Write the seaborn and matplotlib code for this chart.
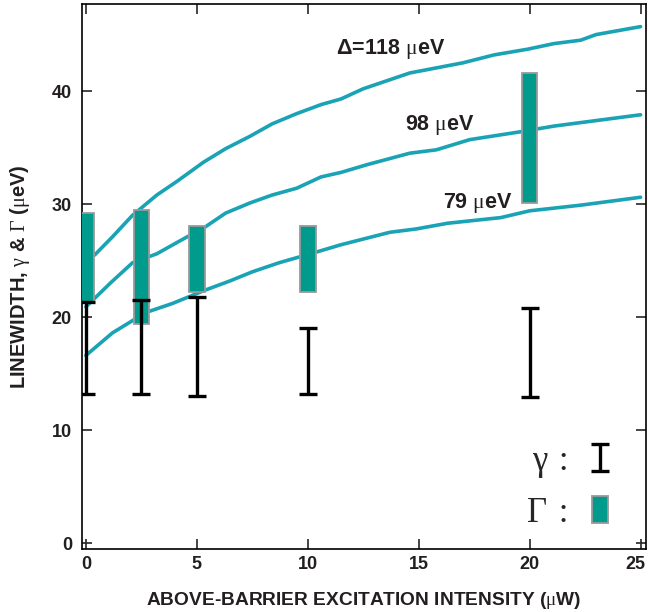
import numpy as np
import pandas as pd
import matplotlib
matplotlib.use("Agg")
import matplotlib.pyplot as plt
import matplotlib.patches as mpatches
import matplotlib.transforms as mtransforms
from matplotlib.container import ErrorbarContainer
from matplotlib.legend_handler import HandlerPatch, HandlerErrorbar
import seaborn as sns

# ---------------- data ----------------
x118 = [0, 0.4, 1.2, 2.1, 3.2, 4.1, 5.3, 6.3, 7.4, 8.4, 9.5, 10.6, 11.5, 12.5, 14.6, 17.0, 18.4, 19.9, 21.1, 22.3, 23.0, 25.0]
y118 = [25.2, 25.5, 27.1, 29.0, 30.8, 32.0, 33.7, 34.9, 36.0, 37.1, 38.0, 38.8, 39.3, 40.2, 41.6, 42.5, 43.2, 43.7, 44.2, 44.5, 45.0, 45.7]
x98 = [0, 1.1, 2.1, 3.2, 4.2, 5.4, 6.3, 7.4, 8.4, 9.5, 10.6, 11.5, 12.7, 14.6, 15.8, 17.3, 19.6, 21.1, 25.0]
y98 = [20.9, 23.0, 24.8, 25.6, 26.7, 28.0, 29.2, 30.1, 30.8, 31.4, 32.4, 32.8, 33.5, 34.5, 34.8, 35.7, 36.4, 36.9, 37.9]
x79 = [0, 1.2, 2.7, 3.9, 5.4, 6.5, 7.5, 8.7, 10.3, 11.5, 13.7, 14.9, 16.3, 18.7, 20.0, 22.3, 25.0]
y79 = [16.6, 18.6, 20.4, 21.2, 22.4, 23.2, 24.0, 24.8, 25.7, 26.4, 27.5, 27.8, 28.3, 28.8, 29.4, 29.9, 30.6]

power = [0, 2.5, 5, 10, 20]
gamma_low = [13.2, 13.2, 13.0, 13.2, 12.9]
gamma_high = [21.3, 21.5, 21.8, 19.0, 20.8]
Gamma_low = [21.2, 19.4, 22.2, 22.2, 30.1]
Gamma_high = [29.2, 29.5, 28.05, 28.1, 41.6]

curve_labels = ["\u0394=118 $\\mathrm{\\mu}$eV", "98 $\\mathrm{\\mu}$eV", "79 $\\mathrm{\\mu}$eV"]
label_x = [13.75, 15.96, 17.67]
label_y = [43.7, 37.0, 30.05]

legend_labels = ["\u03b3\u2004:", "\u0393\u2004:"]

xticks = [0, 5, 10, 15, 20, 25]
yticks = [0, 10, 20, 30, 40]

# ---------------- style ----------------
sns.set_style("ticks")
plt.rcParams["font.family"] = ["Liberation Sans", "DejaVu Sans"]
plt.rcParams["mathtext.fontset"] = "custom"
plt.rcParams["mathtext.rm"] = "Liberation Serif"
plt.rcParams["mathtext.it"] = "Liberation Serif:italic"
plt.rcParams["mathtext.bf"] = "Liberation Serif:bold"

LINE_C = "#19A3B4"
BOX_C = "#009B8C"
EDGE_C = "#9A9A9A"
TXT_C = "#231F20"

fig = plt.figure(figsize=(6.48, 6.12), dpi=100)
ax = fig.add_axes([0.126, 0.1029, 0.8704, 0.8905])

df = pd.concat([
    pd.DataFrame({"P": x118, "W": y118, "delta": "118"}),
    pd.DataFrame({"P": x98, "W": y98, "delta": "98"}),
    pd.DataFrame({"P": x79, "W": y79, "delta": "79"}),
], ignore_index=True)

sns.lineplot(data=df, x="P", y="W", hue="delta",
             palette={"118": LINE_C, "98": LINE_C, "79": LINE_C},
             estimator=None, sort=False, linewidth=2.6, legend=False,
             ax=ax, zorder=2)

low = np.array(Gamma_low)
high = np.array(Gamma_high)
ax.bar(power, high - low, bottom=low, width=0.7, color=BOX_C,
       edgecolor=EDGE_C, linewidth=1.3, zorder=3)

gl = np.array(gamma_low)
gh = np.array(gamma_high)
mid = (gl + gh) / 2
err = ax.errorbar(power, mid, yerr=[mid - gl, gh - mid], fmt="none",
                  ecolor="black", elinewidth=2.4, capsize=6.8, capthick=2.4,
                  zorder=4)

for t, lx, ly in zip(curve_labels, label_x, label_y):
    ax.text(lx, ly, t, ha="center", va="center", fontsize=15.5,
            fontweight="bold", color=TXT_C)

ax.set_xlim(-0.19, 25.23)
ax.set_ylim(-0.53, 47.7)
ax.set_xticks(xticks)
ax.set_yticks(yticks)
ax.tick_params(direction="in", length=7, width=1.2, top=True, right=True,
               labelsize=13, labelcolor=TXT_C)
ax.tick_params(axis="y", pad=7)
ax.tick_params(axis="x", pad=5)
for lab in ax.get_xticklabels() + ax.get_yticklabels():
    lab.set_fontweight("bold")
for s in ax.spines.values():
    s.set_linewidth(1.2)
    s.set_color("black")

ax.set_xlabel("ABOVE-BARRIER EXCITATION INTENSITY ($\\mathrm{\\mu}$W)",
              fontsize=13.8, fontweight="bold", color=TXT_C, labelpad=12)
ax.set_ylabel("LINEWIDTH, $\\mathrm{\\gamma}$ & $\\mathrm{\\Gamma}$ ($\\mathrm{\\mu}$eV)",
              fontsize=14.5, fontweight="bold", color=TXT_C, labelpad=14)

# nudge the last x tick label so it stays inside the figure
last = ax.get_xticklabels()[-1]
last.set_transform(last.get_transform() +
                   mtransforms.ScaledTranslation(-4 / 72, 0, fig.dpi_scale_trans))


def make_box(legend, orig_handle, xdescent, ydescent, width, height, fontsize):
    return mpatches.Rectangle((-xdescent + width * 0.12, -ydescent - height * 0.05),
                              width * 0.76, height * 1.1)


box_handle = mpatches.Rectangle((0, 0), 1, 1, facecolor=BOX_C, edgecolor=EDGE_C,
                                linewidth=1.3)
leg = ax.legend([err, box_handle], legend_labels,
                handler_map={mpatches.Rectangle: HandlerPatch(patch_func=make_box),
                             ErrorbarContainer: HandlerErrorbar(xerr_size=0.39)},
                loc="lower right", bbox_to_anchor=(0.937, 0.035),
                frameon=False, markerfirst=False, borderpad=0, borderaxespad=0,
                prop={"family": ["Liberation Serif", "DejaVu Serif"], "size": 25},
                handlelength=0.6, handleheight=0.7, handletextpad=0.6,
                labelspacing=0.55)

fig.savefig("out.png", dpi=100)
